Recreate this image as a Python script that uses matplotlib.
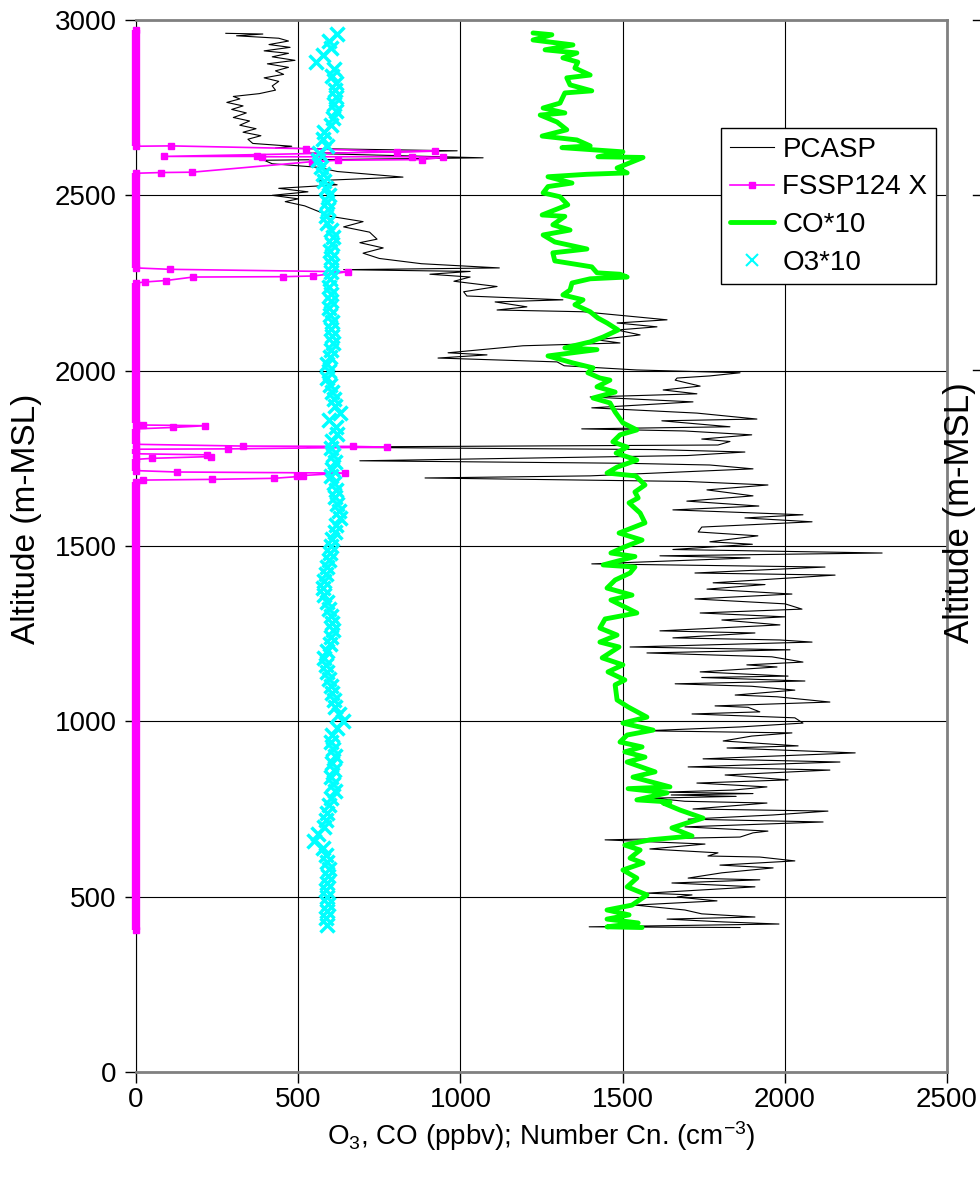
import matplotlib
matplotlib.use('Agg')
import matplotlib.pyplot as plt
from matplotlib.lines import Line2D

plt.rcParams['font.family'] = ['Liberation Sans', 'DejaVu Sans']
plt.rcParams['mathtext.fontset'] = 'custom'
plt.rcParams['mathtext.rm'] = 'Liberation Sans'
plt.rcParams['mathtext.it'] = 'Liberation Sans'

# PCASP number concentration (cm-3) vs altitude (m)
pcasp_alt = [2962, 2960, 2955, 2948, 2940, 2930, 2922, 2912, 2905, 2895, 2885, 2875, 2865, 2855, 2845,
             2835, 2825, 2812, 2800, 2790, 2782, 2775, 2765, 2755, 2745, 2735, 2722, 2712, 2700, 2690,
             2680, 2670, 2660, 2648, 2640, 2635, 2627, 2620, 2607, 2600, 2590, 2580, 2568, 2552, 2542,
             2530, 2520, 2510, 2500, 2490, 2482, 2470, 2455, 2440, 2425, 2410, 2395, 2375, 2365, 2350,
             2335, 2320, 2305, 2293, 2288, 2283, 2275, 2267, 2255, 2240, 2225, 2213, 2202, 2196, 2182,
             2173, 2168, 2145, 2136, 2125, 2116, 2102, 2088, 2079, 2071, 2051, 2045, 2036, 2025, 2014,
             2002, 1994, 1985, 1979, 1973, 1965, 1956, 1945, 1934, 1925, 1911, 1894, 1879, 1862, 1857,
             1840, 1834, 1828, 1817, 1805, 1798, 1788, 1782, 1775, 1768, 1758, 1743, 1736, 1731, 1720,
             1700, 1694, 1684, 1674, 1660, 1643, 1628, 1614, 1603, 1589, 1580, 1569, 1554, 1540, 1529,
             1512, 1505, 1490, 1480, 1472, 1466, 1449, 1440, 1423, 1417, 1395, 1390, 1377, 1363, 1349,
             1335, 1320, 1309, 1298, 1289, 1275, 1258, 1252, 1238, 1232, 1226, 1212, 1204, 1195, 1184,
             1169, 1161, 1155, 1141, 1129, 1125, 1115, 1107, 1100, 1089, 1075, 1070, 1055, 1044, 1040,
             1027, 1021, 1010, 995, 984, 973, 967, 958, 944, 930, 924, 910, 893, 884, 870,
             861, 847, 833, 824, 813, 804, 798, 794, 790, 786, 781, 772, 767, 750, 744,
             733, 721, 713, 699, 687, 682, 670, 662, 650, 636, 625, 616, 613, 602, 590,
             582, 568, 553, 548, 539, 528, 510, 505, 499, 488, 476, 462, 451, 442, 436,
             428, 422, 414, 412]
pcasp_val = [277, 391, 310, 440, 470, 410, 475, 395, 470, 420, 490, 405, 470, 430, 455,
             395, 440, 420, 430, 380, 300, 320, 280, 330, 295, 340, 300, 350, 320, 370,
             330, 385, 345, 360, 480, 430, 990, 520, 1070, 395, 420, 560, 620, 823, 560,
             620, 440, 530, 420, 500, 460, 520, 560, 600, 700, 640, 720, 743, 690, 762,
             700, 750, 880, 1120, 640, 1030, 906, 1030, 980, 1113, 1010, 1020, 1316, 1107, 1205,
             1113, 1378, 1637, 1483, 1606, 1483, 1554, 1421, 1492, 1193, 962, 1082, 931, 1298, 1320,
             1544, 1862, 1769, 1668, 1662, 1698, 1739, 1625, 1729, 1400, 1717, 1405, 1729, 1914, 1621,
             1831, 1374, 1692, 1898, 1744, 1831, 1794, 527, 1600, 1877, 1700, 690, 1500, 1769, 1902,
             1400, 891, 1700, 1948, 1760, 1902, 1698, 1920, 1655, 2056, 1877, 2084, 1744, 1733, 1917,
             1769, 1900, 1655, 2300, 1615, 1893, 1405, 2124, 1723, 2155, 1779, 1939, 1760, 2022, 1723,
             2001, 2053, 1739, 2001, 1806, 1985, 1615, 1908, 1655, 1985, 2084, 1523, 2016, 1575, 1960,
             2056, 1883, 1976, 1739, 2010, 1744, 2062, 1662, 1898, 2031, 1847, 1976, 2139, 1785, 1887,
             1923, 1714, 2031, 2056, 1862, 1569, 2022, 1898, 1810, 2041, 1822, 2217, 1748, 2170, 1702,
             2139, 1816, 2010, 1729, 1945, 1841, 1625, 1902, 1650, 1850, 1594, 1692, 1945, 1717, 2133,
             1964, 1702, 2118, 1692, 1948, 1902, 1862, 1446, 1754, 1584, 1794, 1763, 1923, 2031, 1800,
             1964, 1806, 1702, 1923, 1652, 1908, 1575, 1714, 1668, 1791, 1538, 1692, 1744, 1908, 1637,
             1810, 1982, 1397, 1862]

# FSSP124 X
fssp_alt = [2972, 2640, 2641, 2633, 2625, 2626, 2611, 2611, 2610, 2610, 2608, 2602, 2600, 2596, 2566,
            2565, 2563, 2293, 2289, 2282, 2270, 2268, 2267, 2257, 2253, 2250, 1851, 1845, 1843, 1838,
            1834, 1790, 1785, 1784, 1782, 1777, 1776, 1763, 1760, 1755, 1750, 1747, 1715, 1711, 1708,
            1700, 1699, 1693, 1690, 1688, 1683, 405]
fssp_val = [0, 0, 108, 524, 804, 922, 87, 373, 388, 851, 946, 882, 623, 542, 173,
            77, 0, 0, 105, 654, 546, 453, 176, 92, 28, 0, 0, 22, 213, 114,
            0, 0, 330, 669, 774, 284, 0, 0, 219, 231, 49, 0, 0, 126, 645,
            496, 515, 425, 234, 22, 0, 0]

# CO*10 (ppbv)
co_alt = [2963, 2958, 2943, 2929, 2915, 2906, 2892, 2880, 2863, 2843, 2835, 2815, 2798, 2792, 2763,
          2749, 2735, 2729, 2709, 2687, 2669, 2658, 2641, 2636, 2624, 2610, 2608, 2578, 2564, 2560,
          2553, 2535, 2525, 2507, 2496, 2473, 2444, 2440, 2416, 2401, 2387, 2367, 2347, 2336, 2313,
          2305, 2296, 2279, 2275, 2267, 2262, 2250, 2230, 2216, 2202, 2188, 2168, 2150, 2136, 2116,
          2096, 2082, 2065, 2060, 2042, 2022, 2008, 1994, 1979, 1973, 1954, 1939, 1922, 1908, 1882,
          1851, 1831, 1817, 1797, 1782, 1765, 1745, 1725, 1708, 1700, 1674, 1654, 1637, 1623, 1594,
          1566, 1537, 1517, 1497, 1480, 1470, 1446, 1440, 1423, 1403, 1380, 1360, 1346, 1326, 1309,
          1292, 1266, 1246, 1226, 1212, 1181, 1161, 1141, 1118, 1104, 1061, 1041, 1012, 995, 975,
          961, 941, 927, 913, 898, 884, 856, 841, 813, 808, 796, 776, 770, 767, 747,
          724, 710, 696, 673, 662, 647, 633, 610, 596, 576, 553, 528, 505, 476, 462,
          448, 436, 425, 414, 412]
co_val = [1224, 1282, 1224, 1347, 1261, 1359, 1316, 1362, 1353, 1400, 1328, 1338, 1405, 1322, 1307,
          1255, 1322, 1246, 1298, 1328, 1252, 1359, 1400, 1313, 1501, 1424, 1563, 1483, 1514, 1390,
          1270, 1344, 1270, 1255, 1307, 1331, 1252, 1322, 1285, 1338, 1255, 1291, 1390, 1285, 1291,
          1345, 1405, 1421, 1492, 1514, 1400, 1344, 1338, 1316, 1378, 1353, 1400, 1424, 1452, 1486,
          1440, 1400, 1322, 1421, 1270, 1347, 1409, 1393, 1430, 1461, 1421, 1477, 1409, 1461, 1477,
          1501, 1544, 1492, 1470, 1514, 1480, 1544, 1483, 1452, 1540, 1569, 1538, 1548, 1520, 1554,
          1569, 1489, 1560, 1505, 1464, 1538, 1440, 1538, 1523, 1477, 1452, 1529, 1464, 1507, 1544,
          1446, 1430, 1483, 1430, 1489, 1437, 1501, 1455, 1507, 1477, 1483, 1517, 1575, 1501, 1594,
          1514, 1492, 1560, 1507, 1569, 1514, 1600, 1532, 1646, 1517, 1637, 1544, 1646, 1625, 1677,
          1748, 1698, 1652, 1714, 1584, 1507, 1554, 1523, 1563, 1501, 1544, 1514, 1575, 1529, 1452,
          1520, 1452, 1548, 1452, 1560]

# O3*10 (ppbv), read every 20 m from 2960 m down to 420 m
o3_alt = list(range(2960, 419, -20))
o3_val = [620, 595, 600, 575, 555, 610, 605, 615, 612, 618, 610, 615, 608, 600, 580,
          575, 590, 565, 560, 570, 575, 580, 585, 595, 590, 592, 585, 590, 600, 608,
          605, 598, 600, 605, 600, 598, 595, 600, 602, 595, 598, 605, 600, 603, 608,
          600, 598, 590, 595, 590, 598, 605, 610, 612, 628, 595, 615, 620, 605, 600,
          608, 612, 605, 600, 610, 615, 612, 620, 625, 628, 618, 612, 605, 600, 598,
          595, 590, 585, 580, 575, 578, 590, 595, 600, 605, 608, 600, 598, 590, 578,
          585, 590, 595, 600, 605, 610, 612, 625, 638, 620, 605, 600, 608, 612, 605,
          610, 600, 608, 612, 600, 595, 590, 585, 578, 560, 548, 575, 585, 590, 595,
          592, 588, 585, 590, 592, 588, 585, 590]

fig = plt.figure(figsize=(9.8, 11.79), dpi=100)
ax = fig.add_axes([136 / 980, 1 - 1072 / 1179, 811 / 980, 1052 / 1179])

ax.plot(pcasp_val, pcasp_alt, color='black', lw=0.8, label='PCASP', zorder=2)

# FSSP: thin line with square markers, and the long zero stretches drawn as a thick bar
ax.plot(fssp_val, fssp_alt, color='#ff00ff', lw=1.2, marker='s', ms=5,
        label='FSSP124 X', zorder=3, clip_on=False)
for i in range(len(fssp_val) - 1):
    if fssp_val[i] == 0 and fssp_val[i + 1] == 0:
        ax.plot([fssp_val[i], fssp_val[i + 1]], [fssp_alt[i], fssp_alt[i + 1]],
                color='#ff00ff', lw=6, solid_capstyle='butt', zorder=3, clip_on=False)

ax.plot(co_val, co_alt, color='#00ff00', lw=3.5, label='CO*10', zorder=4,
        solid_joinstyle='round', solid_capstyle='round')
ax.plot(o3_val, o3_alt, ls='none', marker='x', ms=10, mew=2.5, color='#00ffff',
        label='O3*10', zorder=5)

ax.set_xlim(0, 2500)
ax.set_ylim(0, 3000)
ax.set_xticks(range(0, 2501, 500))
ax.set_yticks(range(0, 3001, 500))
ax.grid(True, color='black', lw=0.8)
ax.set_axisbelow(True)
ax.tick_params(labelsize=20, length=8, width=1, direction='out')
ax.tick_params(axis='x', pad=3)
ax.tick_params(axis='y', pad=6)

for side in ['top', 'right', 'bottom']:
    ax.spines[side].set_color('#808080')
    ax.spines[side].set_linewidth(2)
ax.spines['left'].set_color('black')

ax.set_xlabel(r'O$_3$, CO (ppbv); Number Cn. (cm$^{-3}$)', fontsize=20, labelpad=4)
ax.set_ylabel('Altitude (m-MSL)', fontsize=24)
ax.yaxis.set_label_coords(-94 / 811, (1072 - 519) / 1052)

leg = ax.legend(loc='upper right', bbox_to_anchor=(0.986, 0.897), fontsize=20,
                frameon=True, fancybox=False, framealpha=1, edgecolor='black',
                handlelength=1.6, handletextpad=0.3, labelspacing=0.42,
                borderpad=0.3, borderaxespad=0)
leg.get_frame().set_linewidth(1)
for h in leg.legend_handles:
    if h.get_label() == 'O3*10':
        h.set_markersize(9)
        h.set_markeredgewidth(1.5)

# cut-off neighbouring panel on the right
fig.text(943 / 980, 1 - 513 / 1179, 'Altitude (m-MSL)', rotation=90, fontsize=25,
         ha='left', va='center')
for yy in [20, 195, 370]:
    fig.add_artist(Line2D([973 / 980, 980 / 980], [1 - yy / 1179, 1 - yy / 1179],
                          color='black', lw=1))

fig.savefig('out.png', dpi=100)
